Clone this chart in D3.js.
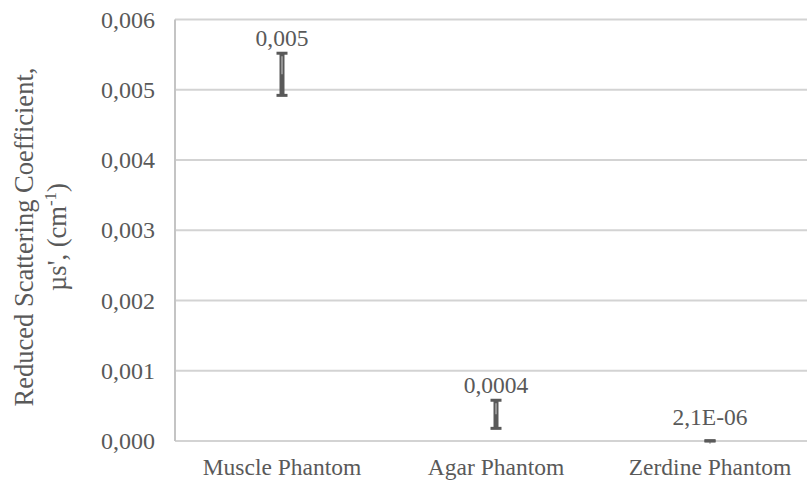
<!DOCTYPE html>
<html>
<head>
<meta charset="utf-8">
<script src="https://cdn.jsdelivr.net/npm/d3@7"></script>
<style>
  html, body { margin: 0; padding: 0; background: #fff; }
  svg { display: block; }
</style>
</head>
<body>
<svg id="chart" width="807" height="481"></svg>
<script>
// Phantom samples and their reduced scattering coefficients (cm^-1)
const categories = ["Muscle Phantom", "Agar Phantom", "Zerdine Phantom"];
const values = [0.00522, 0.00038, 0.0000021];
const errors = [0.0003, 0.0002, 0.000001];
const valueLabels = ["0,005", "0,0004", "2,1E-06"];
const yTicks = [0, 0.001, 0.002, 0.003, 0.004, 0.005, 0.006];

const FONT = "Liberation Serif";
const TEXT_COLOR = "#595959";

const svg = d3.select("#chart");
const plot = { left: 175, right: 817, top: 19.5, bottom: 441 };

const x = d3.scaleBand().domain(categories).range([plot.left, plot.right]).padding(0);
const y = d3.scaleLinear().domain([0, 0.006]).range([plot.bottom, plot.top]);

const fmt = d => d3.format(".3f")(d).replace(".", ",");
const styleText = size => sel => sel
  .attr("font-family", null)
  .style("font-family", FONT)
  .style("font-size", size + "px")
  .style("fill", TEXT_COLOR);

// horizontal gridlines
svg.append("g")
  .selectAll("line")
  .data(yTicks)
  .join("line")
  .attr("x1", plot.left).attr("x2", plot.right)
  .attr("y1", d => y(d)).attr("y2", d => y(d))
  .attr("stroke", "#d3d3d3").attr("stroke-width", 2);

// left axis line
svg.append("line")
  .attr("x1", plot.left).attr("x2", plot.left)
  .attr("y1", plot.top).attr("y2", plot.bottom)
  .attr("stroke", "#c4c4c4").attr("stroke-width", 2);

// y tick labels
const yAxis = d3.axisLeft(y).tickValues(yTicks).tickFormat(fmt).tickSize(0).tickPadding(20);
const gy = svg.append("g").attr("transform", `translate(${plot.left},0)`).call(yAxis);
gy.attr("font-family", null).attr("font-size", null);
gy.select(".domain").remove();
gy.selectAll("text").call(styleText(24));

// x category labels
const xAxis = d3.axisBottom(x).tickSize(0).tickPadding(0);
const gx = svg.append("g").attr("transform", `translate(0,${plot.bottom})`).call(xAxis);
gx.attr("font-family", null).attr("font-size", null);
gx.select(".domain").remove();
gx.selectAll("text").attr("dy", null).attr("y", 34).call(styleText(23.5));

// y axis title (two lines)
const title = svg.append("text")
  .attr("transform", `translate(0,237) rotate(-90)`)
  .attr("text-anchor", "middle")
  .call(styleText(26.5));
title.append("tspan").attr("x", 0).attr("y", 33).text("Reduced Scattering Coefficient,");
const l2 = title.append("tspan").attr("x", 0).attr("y", 66);
l2.append("tspan").text("µs', (cm");
l2.append("tspan").attr("dy", -10).style("font-size", "17px").text("-1");
l2.append("tspan").attr("dy", 10).text(")");

// error bars
const data = categories.map((c, i) => ({ c, v: values[i], e: errors[i], label: valueLabels[i] }));
const cx = d => x(d.c) + x.bandwidth() / 2;
const eb = svg.append("g").selectAll("g").data(data).join("g");

eb.append("line")
  .attr("x1", cx).attr("x2", cx)
  .attr("y1", d => y(d.v - d.e)).attr("y2", d => y(d.v + d.e))
  .attr("stroke", "#595959").attr("stroke-width", 5);
eb.append("line")
  .attr("x1", cx).attr("x2", cx)
  .attr("y1", d => y(d.v + d.e) + 3).attr("y2", d => y(d.v))
  .attr("stroke", "#a6a6a6").attr("stroke-width", 1.5);
[d => y(d.v + d.e), d => y(d.v - d.e)].forEach(fy => {
  eb.append("line")
    .attr("x1", d => cx(d) - 5.5).attr("x2", d => cx(d) + 5.5)
    .attr("y1", fy).attr("y2", fy)
    .attr("stroke", "#595959").attr("stroke-width", 3);
});

// value labels
eb.append("text")
  .attr("x", cx)
  .attr("y", d => Math.min(y(d.v + d.e) - 7, y(d.v) - 16))
  .attr("text-anchor", "middle")
  .call(styleText(23.5))
  .text(d => d.label);
</script>
</body>
</html>
